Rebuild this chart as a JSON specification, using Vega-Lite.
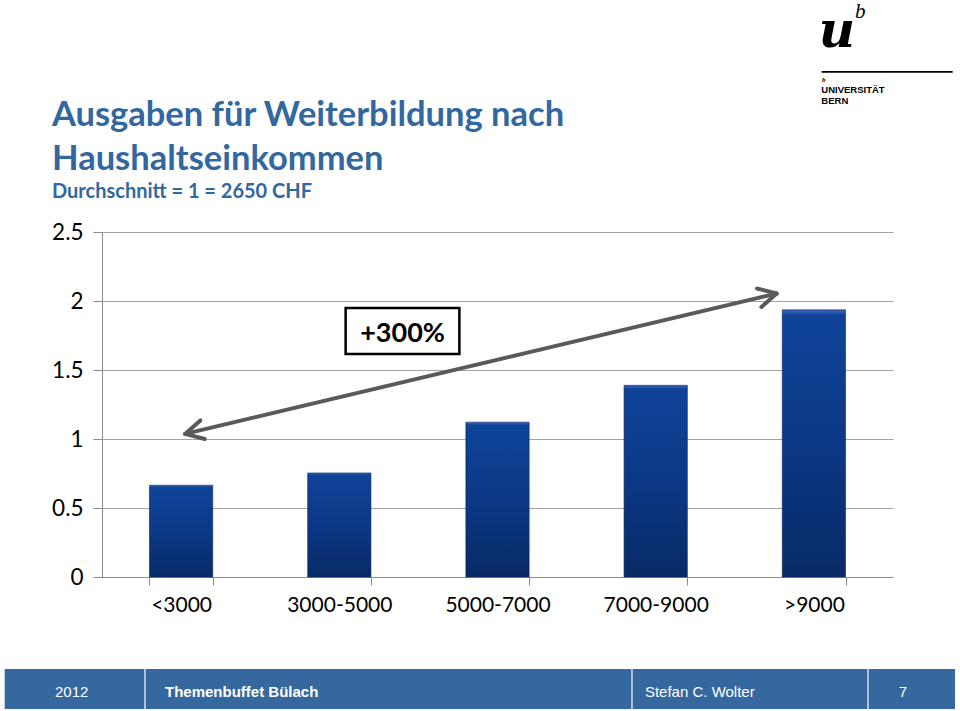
{
  "$schema": "https://vega.github.io/schema/vega-lite/v6.json",
  "width": 791,
  "height": 345,
  "autosize": {"type": "none"},
  "padding": {"left": 102, "top": 232, "right": 67, "bottom": 134},
  "background": "white",
  "config": {"view": {"stroke": null}, "font": "Lato"},
  "datasets": {
    "ausgaben": [
      {"Einkommen": "<3000", "Index": 0.665},
      {"Einkommen": "3000-5000", "Index": 0.754},
      {"Einkommen": "5000-7000", "Index": 1.122},
      {"Einkommen": "7000-9000", "Index": 1.389},
      {"Einkommen": ">9000", "Index": 1.936}
    ],
    "pfeil": [
      {"ende": "links", "p": 0.525, "v": 1.037},
      {"ende": "rechts", "p": 4.265, "v": 2.054}
    ]
  },
  "resolve": {"scale": {"x": "independent", "y": "independent"}},
  "layer": [
    {
      "data": {"name": "ausgaben"},
      "mark": {
        "type": "bar",
        "color": {
          "gradient": "linear", "x1": 0, "y1": 0, "x2": 0, "y2": 1,
          "stops": [
            {"offset": 0, "color": "#3c6abb"},
            {"offset": 0.02, "color": "#0f4399"},
            {"offset": 0.5, "color": "#0b3886"},
            {"offset": 1, "color": "#082a66"}
          ]
        },
        "stroke": "#0a2960",
        "strokeWidth": 0.6
      },
      "encoding": {
        "x": {
          "field": "Einkommen", "type": "nominal", "sort": null,
          "scale": {"paddingInner": 0.6, "paddingOuter": 0.3},
          "axis": {
            "title": null, "labelAngle": 0, "labelFont": "Lato", "labelFontSize": 21,
            "labelColor": "#000000", "labelPadding": 9, "tickBand": "extent", "tickSize": 8,
            "tickColor": "#8c8c8c", "domainColor": "#8c8c8c", "grid": false
          }
        },
        "y": {
          "field": "Index", "type": "quantitative",
          "scale": {"domain": [0, 2.5], "nice": false},
          "axis": {
            "title": null, "values": [0, 0.5, 1, 1.5, 2, 2.5], "format": "~g",
            "labelFont": "Lato", "labelFontSize": 22.5, "labelColor": "#000000", "labelPadding": 10,
            "tickSize": 9, "tickColor": "#8c8c8c", "domainColor": "#8c8c8c",
            "gridColor": "#a3a3a3", "gridWidth": 1
          }
        }
      }
    },
    {
      "layer": [
        {
          "data": {"name": "pfeil"},
          "mark": {"type": "line", "color": "#5a5a5a", "strokeWidth": 4, "strokeCap": "round"},
          "encoding": {
            "x": {"field": "p", "type": "quantitative", "scale": {"domain": [0, 5], "nice": false, "zero": false}, "axis": null},
            "y": {"field": "v", "type": "quantitative", "scale": {"domain": [0, 2.5], "nice": false}, "axis": null}
          }
        },
        {
          "data": {"name": "pfeil"},
          "transform": [{"filter": "datum.ende == 'links'"}],
          "mark": {"type": "point", "shape": "M -1 -0.53 L 0 0 L -1 0.53", "filled": false, "stroke": "#5a5a5a", "strokeWidth": 4, "size": 1296, "angle": 166.6, "opacity": 1, "strokeCap": "round", "strokeJoin": "round"},
          "encoding": {
            "x": {"field": "p", "type": "quantitative", "scale": {"domain": [0, 5], "nice": false, "zero": false}, "axis": null},
            "y": {"field": "v", "type": "quantitative", "scale": {"domain": [0, 2.5], "nice": false}, "axis": null}
          }
        },
        {
          "data": {"name": "pfeil"},
          "transform": [{"filter": "datum.ende == 'rechts'"}],
          "mark": {"type": "point", "shape": "M -1 -0.53 L 0 0 L -1 0.53", "filled": false, "stroke": "#5a5a5a", "strokeWidth": 4, "size": 1296, "angle": -13.4, "opacity": 1, "strokeCap": "round", "strokeJoin": "round"},
          "encoding": {
            "x": {"field": "p", "type": "quantitative", "scale": {"domain": [0, 5], "nice": false, "zero": false}, "axis": null},
            "y": {"field": "v", "type": "quantitative", "scale": {"domain": [0, 2.5], "nice": false}, "axis": null}
          }
        },
        {
          "data": {"values": [{}]},
          "mark": {"type": "rect", "fill": "white", "stroke": "black", "strokeWidth": 2.5},
          "encoding": {
            "x": {"datum": 1.54, "type": "quantitative", "scale": {"domain": [0, 5], "nice": false, "zero": false}, "axis": null},
            "x2": {"datum": 2.259},
            "y": {"datum": 1.949, "type": "quantitative", "scale": {"domain": [0, 2.5], "nice": false}, "axis": null},
            "y2": {"datum": 1.616}
          }
        },
        {
          "data": {"values": [{}]},
          "mark": {"type": "text", "text": "+300%", "font": "Lato", "fontWeight": "bold", "fontSize": 27, "align": "center", "baseline": "alphabetic", "color": "black"},
          "encoding": {
            "x": {"datum": 1.9, "type": "quantitative", "scale": {"domain": [0, 5], "nice": false, "zero": false}, "axis": null},
            "y": {"datum": 1.7, "type": "quantitative", "scale": {"domain": [0, 2.5], "nice": false}, "axis": null}
          }
        },
        {
          "data": {"values": [{}]},
          "mark": {"type": "text", "text": "Ausgaben für Weiterbildung nach", "font": "Lato", "fontWeight": "bold", "fontSize": 34.5, "align": "left", "baseline": "alphabetic", "color": "#32679f"},
          "encoding": {
            "x": {"datum": -0.316, "type": "quantitative", "scale": {"domain": [0, 5], "nice": false, "zero": false}, "axis": null},
            "y": {"datum": 3.268, "type": "quantitative", "scale": {"domain": [0, 2.5], "nice": false}, "axis": null}
          }
        },
        {
          "data": {"values": [{}]},
          "mark": {"type": "text", "text": "Haushaltseinkommen", "font": "Lato", "fontWeight": "bold", "fontSize": 34.5, "align": "left", "baseline": "alphabetic", "color": "#32679f"},
          "encoding": {
            "x": {"datum": -0.316, "type": "quantitative", "scale": {"domain": [0, 5], "nice": false, "zero": false}, "axis": null},
            "y": {"datum": 2.948, "type": "quantitative", "scale": {"domain": [0, 2.5], "nice": false}, "axis": null}
          }
        },
        {
          "data": {"values": [{}]},
          "mark": {"type": "text", "text": "Durchschnitt = 1 = 2650 CHF", "font": "Lato", "fontWeight": "bold", "fontSize": 20, "align": "left", "baseline": "alphabetic", "color": "#32679f"},
          "encoding": {
            "x": {"datum": -0.316, "type": "quantitative", "scale": {"domain": [0, 5], "nice": false, "zero": false}, "axis": null},
            "y": {"datum": 2.746, "type": "quantitative", "scale": {"domain": [0, 2.5], "nice": false}, "axis": null}
          }
        },
        {
          "data": {"values": [{}]},
          "mark": {"type": "rect", "fill": "#35689f"},
          "encoding": {
            "x": {"datum": -0.615, "type": "quantitative", "scale": {"domain": [0, 5], "nice": false, "zero": false}, "axis": null},
            "x2": {"datum": 5.392},
            "y": {"datum": -0.667, "type": "quantitative", "scale": {"domain": [0, 2.5], "nice": false}, "axis": null},
            "y2": {"datum": -0.957}
          }
        },
        {
          "data": {"values": [{}]},
          "mark": {"type": "rule", "color": "#d4deea", "strokeWidth": 1.5},
          "encoding": {
            "x": {"datum": 0.2718, "type": "quantitative", "scale": {"domain": [0, 5], "nice": false, "zero": false}, "axis": null},
            "y": {"datum": -0.667, "type": "quantitative", "scale": {"domain": [0, 2.5], "nice": false}, "axis": null},
            "y2": {"datum": -0.957}
          }
        },
        {
          "data": {"values": [{}]},
          "mark": {"type": "rule", "color": "#d4deea", "strokeWidth": 1.5},
          "encoding": {
            "x": {"datum": 3.35, "type": "quantitative", "scale": {"domain": [0, 5], "nice": false, "zero": false}, "axis": null},
            "y": {"datum": -0.667, "type": "quantitative", "scale": {"domain": [0, 2.5], "nice": false}, "axis": null},
            "y2": {"datum": -0.957}
          }
        },
        {
          "data": {"values": [{}]},
          "mark": {"type": "rule", "color": "#d4deea", "strokeWidth": 1.5},
          "encoding": {
            "x": {"datum": 4.842, "type": "quantitative", "scale": {"domain": [0, 5], "nice": false, "zero": false}, "axis": null},
            "y": {"datum": -0.667, "type": "quantitative", "scale": {"domain": [0, 2.5], "nice": false}, "axis": null},
            "y2": {"datum": -0.957}
          }
        },
        {
          "data": {"values": [{}]},
          "mark": {"type": "text", "text": "2012", "font": "Liberation Sans", "fontSize": 15, "align": "center", "baseline": "alphabetic", "color": "white"},
          "encoding": {
            "x": {"datum": -0.1915, "type": "quantitative", "scale": {"domain": [0, 5], "nice": false, "zero": false}, "axis": null},
            "y": {"datum": -0.872, "type": "quantitative", "scale": {"domain": [0, 2.5], "nice": false}, "axis": null}
          }
        },
        {
          "data": {"values": [{}]},
          "mark": {"type": "text", "text": "Themenbuffet Bülach", "font": "Liberation Sans", "fontWeight": "bold", "fontSize": 15, "align": "left", "baseline": "alphabetic", "color": "white"},
          "encoding": {
            "x": {"datum": 0.398, "type": "quantitative", "scale": {"domain": [0, 5], "nice": false, "zero": false}, "axis": null},
            "y": {"datum": -0.872, "type": "quantitative", "scale": {"domain": [0, 2.5], "nice": false}, "axis": null}
          }
        },
        {
          "data": {"values": [{}]},
          "mark": {"type": "text", "text": "Stefan C. Wolter", "font": "Liberation Sans", "fontSize": 15, "align": "left", "baseline": "alphabetic", "color": "white"},
          "encoding": {
            "x": {"datum": 3.432, "type": "quantitative", "scale": {"domain": [0, 5], "nice": false, "zero": false}, "axis": null},
            "y": {"datum": -0.872, "type": "quantitative", "scale": {"domain": [0, 2.5], "nice": false}, "axis": null}
          }
        },
        {
          "data": {"values": [{}]},
          "mark": {"type": "text", "text": "7", "font": "Liberation Sans", "fontSize": 15, "align": "center", "baseline": "alphabetic", "color": "white"},
          "encoding": {
            "x": {"datum": 5.063, "type": "quantitative", "scale": {"domain": [0, 5], "nice": false, "zero": false}, "axis": null},
            "y": {"datum": -0.868, "type": "quantitative", "scale": {"domain": [0, 2.5], "nice": false}, "axis": null}
          }
        },
        {
          "data": {"values": [{}]},
          "mark": {"type": "text", "text": "u", "font": "DejaVu Serif", "fontWeight": "bold", "fontStyle": "italic", "fontSize": 50, "align": "left", "baseline": "alphabetic", "color": "black"},
          "encoding": {
            "x": {"datum": 4.53, "type": "quantitative", "scale": {"domain": [0, 5], "nice": false, "zero": false}, "axis": null},
            "y": {"datum": 3.844, "type": "quantitative", "scale": {"domain": [0, 2.5], "nice": false}, "axis": null}
          }
        },
        {
          "data": {"values": [{}]},
          "mark": {"type": "text", "text": "b", "font": "Liberation Serif", "fontStyle": "italic", "fontSize": 21, "align": "left", "baseline": "alphabetic", "color": "black"},
          "encoding": {
            "x": {"datum": 4.76, "type": "quantitative", "scale": {"domain": [0, 5], "nice": false, "zero": false}, "axis": null},
            "y": {"datum": 4.048, "type": "quantitative", "scale": {"domain": [0, 2.5], "nice": false}, "axis": null}
          }
        },
        {
          "data": {"values": [{}]},
          "mark": {"type": "rule", "color": "black", "strokeWidth": 1.8},
          "encoding": {
            "x": {"datum": 4.549, "type": "quantitative", "scale": {"domain": [0, 5], "nice": false, "zero": false}, "axis": null},
            "x2": {"datum": 5.377},
            "y": {"datum": 3.661, "type": "quantitative", "scale": {"domain": [0, 2.5], "nice": false}, "axis": null}
          }
        },
        {
          "data": {"values": [{}]},
          "mark": {"type": "text", "text": "b", "font": "Liberation Serif", "fontStyle": "italic", "fontWeight": "bold", "fontSize": 7, "align": "left", "baseline": "alphabetic", "color": "black"},
          "encoding": {
            "x": {"datum": 4.551, "type": "quantitative", "scale": {"domain": [0, 5], "nice": false, "zero": false}, "axis": null},
            "y": {"datum": 3.587, "type": "quantitative", "scale": {"domain": [0, 2.5], "nice": false}, "axis": null}
          }
        },
        {
          "data": {"values": [{}]},
          "mark": {"type": "text", "text": "UNIVERSITÄT", "font": "Liberation Sans", "fontWeight": "bold", "fontSize": 9.5, "align": "left", "baseline": "alphabetic", "color": "black"},
          "encoding": {
            "x": {"datum": 4.547, "type": "quantitative", "scale": {"domain": [0, 5], "nice": false, "zero": false}, "axis": null},
            "y": {"datum": 3.509, "type": "quantitative", "scale": {"domain": [0, 2.5], "nice": false}, "axis": null}
          }
        },
        {
          "data": {"values": [{}]},
          "mark": {"type": "text", "text": "BERN", "font": "Liberation Sans", "fontWeight": "bold", "fontSize": 9.5, "align": "left", "baseline": "alphabetic", "color": "black"},
          "encoding": {
            "x": {"datum": 4.547, "type": "quantitative", "scale": {"domain": [0, 5], "nice": false, "zero": false}, "axis": null},
            "y": {"datum": 3.427, "type": "quantitative", "scale": {"domain": [0, 2.5], "nice": false}, "axis": null}
          }
        }
      ]
    }
  ]
}
